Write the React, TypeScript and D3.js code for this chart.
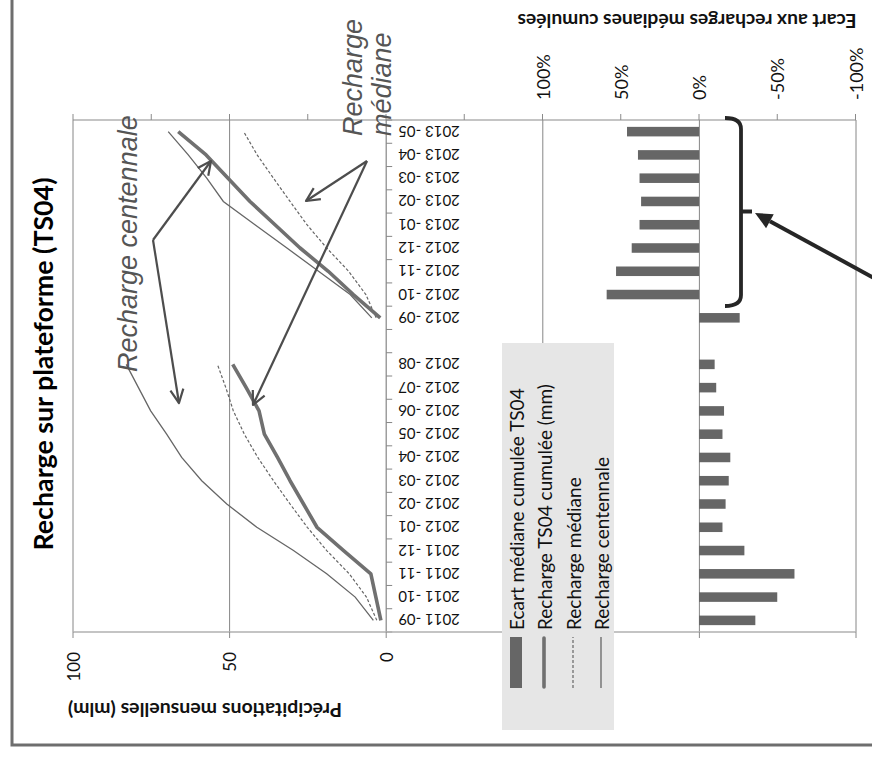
import React from 'react';
import * as d3 from 'd3';

// categories (a blank slot separates the two hydrological years)
const months = [
  '2011 -09', '2011 -10', '2011 -11', '2011 -12', '2012 -01', '2012 -02', '2012 -03', '2012 -04',
  '2012 -05', '2012 -06', '2012 -07', '2012 -08', '', '2012 -09', '2012 -10', '2012 -11',
  '2012 -12', '2013 -01', '2013 -02', '2013 -03', '2013 -04', '2013 -05',
];

// Ecart médiane cumulée TS04 (%)
const ecartMediane = [
  -36, -50, -61, -29, -15, -17, -19, -20, -15, -16, -11, -10, null,
  -26, 59, 53, 43, 38, 37, 38, 39, 46,
];

// cumulated recharges (mm)
const rechargeTS04 = [
  1.7, 3.3, 4.9, 13.6, 22.1, 26.4, 30.7, 34.7, 38.9, 40.6, 44.7, 49.0, null,
  1.9, 10.5, 18.5, 27.5, 35.5, 43.5, 50.5, 57.5, 66.4,
];
const rechargeMediane = [
  3.0, 6.3, 11.8, 19.0, 25.2, 30.7, 36.0, 41.0, 45.3, 48.8, 51.2, 53.9, null,
  3.2, 6.5, 12.0, 19.0, 25.3, 30.7, 36.0, 41.2, 45.5,
];
const rechargeCentennale = [
  4.1, 9.9, 19.0, 29.6, 41.3, 50.9, 58.9, 65.3, 70.1, 75.2, 79.1, 83.0, null,
  4.6, 11.5, 21.6, 31.7, 41.9, 52.0, 57.3, 63.2, 69.6,
];

const primTicks = [-150, -100, -50, 0, 50, 100];
const primLabels = [0, 50, 100];
const secTicks = d3.range(-100, 401, 50);
const secLabels = [-100, -50, 0, 50, 100];
const legendItems = [
  'Ecart médiane cumulée TS04',
  'Recharge TS04 cumulée (mm)',
  'Recharge médiane',
  'Recharge centennale',
];

const W = 757; // width of the chart before it is turned on its side
const SANS = 'Lato, "Open Sans", sans-serif';

// open arrow head at "tip" for a segment coming from "from"
const arrowHead = (from: number[], tip: number[], len = 15, spread = 0.45) => {
  const a = Math.atan2(tip[1] - from[1], tip[0] - from[0]);
  const p1 = [tip[0] - len * Math.cos(a - spread), tip[1] - len * Math.sin(a - spread)];
  const p2 = [tip[0] - len * Math.cos(a + spread), tip[1] - len * Math.sin(a + spread)];
  return `M${p1[0]},${p1[1]}L${tip[0]},${tip[1]}L${p2[0]},${p2[1]}`;
};

const App: React.FC = () => {
  const x = d3.scaleBand<number>().domain(d3.range(months.length)).range([125, 637]).padding(0);
  const yPrim = d3.scaleLinear().domain([-150, 100]).range([856, 73]);
  const ySec = d3.scaleLinear().domain([-100, 400]).range([855.5, 73]);
  const cx = (i: number) => (x(i) as number) + x.bandwidth() / 2;
  const barW = x.bandwidth() * 0.41;

  const line = d3.line<number | null>()
    .defined(d => d !== null)
    .x((_, i) => cx(i))
    .y(d => yPrim(d as number));

  const plotTop = 73;
  const plotBottom = 856;
  const left = 125;
  const right = 637;
  const catAxis = yPrim(0);

  // annotation arrows (drawn on the final, turned picture)
  const centVertex = [153, 240];
  const centTips = [[211, 161], [179, 403]];
  const medVertex = [367, 161];
  const medTips = [[306, 201], [253, 405]];
  const blackFrom = [905, 295];
  const blackTip = [755, 213];
  const ba = Math.atan2(blackTip[1] - blackFrom[1], blackTip[0] - blackFrom[0]);
  const bh = 17;
  const bw = 8;
  const bBase = [blackTip[0] - bh * Math.cos(ba), blackTip[1] - bh * Math.sin(ba)];
  const blackHead = `M${blackTip[0]},${blackTip[1]}L${bBase[0] + bw * Math.sin(ba)},${bBase[1] - bw * Math.cos(ba)}L${bBase[0] - bw * Math.sin(ba)},${bBase[1] + bw * Math.cos(ba)}Z`;

  return (
    <svg width={872} height={757} style={{ position: 'absolute', left: 0, top: 0, background: '#fff' }}>
      <g transform={`translate(0,${W}) rotate(-90)`}>
        {/* frame */}
        <rect x={12} y={12} width={900} height={900} fill="none" stroke="#6e6e6e" strokeWidth={3} />

        {/* title */}
        <text x={393} y={53} textAnchor="middle" fontFamily={SANS} fontWeight="bold" fontSize={27}
          textLength={373} lengthAdjust="spacingAndGlyphs" fill="#000">
          Recharge sur plateforme (TS04)
        </text>

        {/* primary gridlines */}
        {primTicks.filter(t => t !== 0).map(t => (
          <line key={t} x1={left} x2={right} y1={yPrim(t)} y2={yPrim(t)} stroke="#868686" strokeWidth={1} />
        ))}

        {/* secondary axis (right) */}
        <line x1={right} x2={right} y1={plotTop} y2={plotBottom} stroke="#8a8a8a" strokeWidth={1.2} />
        {secTicks.map(t => (
          <line key={t} x1={right} x2={right + 6} y1={ySec(t)} y2={ySec(t)} stroke="#8a8a8a" strokeWidth={1} />
        ))}
        {secLabels.map(t => (
          <text key={t} x={right + 20} y={ySec(t)} textAnchor="start" dominantBaseline="central"
            fontFamily={SANS} fontSize={18} fill="#111">
            {`${t}%`}
          </text>
        ))}
        <text transform={`translate(736,687) rotate(-90)`} textAnchor="middle" dominantBaseline="central"
          fontFamily={SANS} fontWeight="bold" fontSize={19} textLength={339} lengthAdjust="spacingAndGlyphs" fill="#111">
          Ecart aux recharges médianes cumulées
        </text>

        {/* bars */}
        {ecartMediane.map((d, i) => d === null ? null : (
          <rect key={i} x={cx(i) - barW / 2} width={barW}
            y={Math.min(ySec(0), ySec(d))} height={Math.abs(ySec(d) - ySec(0))} fill="#666" />
        ))}

        {/* lines */}
        <path d={line(rechargeCentennale) || ''} fill="none" stroke="#666" strokeWidth={1.3} />
        <path d={line(rechargeMediane) || ''} fill="none" stroke="#666" strokeWidth={1.2} strokeDasharray="3,2" />
        <path d={line(rechargeTS04) || ''} fill="none" stroke="#707070" strokeWidth={3.6} strokeLinejoin="round" />

        {/* category axis at 0 */}
        <line x1={left} x2={right} y1={catAxis} y2={catAxis} stroke="#868686" strokeWidth={1.2} />
        {d3.range(months.length + 1).map(k => {
          const u = left + k * x.step();
          return <line key={k} x1={u} x2={u} y1={catAxis} y2={catAxis + 6} stroke="#868686" strokeWidth={1} />;
        })}
        {months.map((m, i) => (
          <text key={i} transform={`translate(${cx(i)},${catAxis + 12}) rotate(-90)`} textAnchor="end"
            dominantBaseline="central" fontFamily={SANS} fontSize={15} fill="#111">
            {m}
          </text>
        ))}

        {/* legend */}
        <rect x={27} y={502} width={387} height={112} fill="#e6e6e6" />
        {legendItems.map((t, i) => {
          const v = [516, 544, 573, 601][i];
          return (
            <g key={t}>
              {i === 0 && <rect x={69} y={v - 6} width={51} height={12} fill="#666" />}
              {i === 1 && <line x1={70} x2={119} y1={v} y2={v} stroke="#707070" strokeWidth={3.6} strokeLinecap="round" />}
              {i === 2 && <line x1={69} x2={120} y1={v} y2={v} stroke="#666" strokeWidth={1.2} strokeDasharray="3,2" />}
              {i === 3 && <line x1={69} x2={120} y1={v} y2={v} stroke="#666" strokeWidth={1.3} />}
              <text x={127} y={v} dominantBaseline="central" fontFamily={SANS} fontSize={19} fill="#111">{t}</text>
            </g>
          );
        })}

        {/* primary axis (left), hidden behind the legend box like the original */}
        <line x1={left} x2={left} y1={plotTop} y2={502} stroke="#b0b0b0" strokeWidth={1.6} />
        <line x1={left} x2={left} y1={614} y2={plotBottom} stroke="#b0b0b0" strokeWidth={1.6} />
        {primTicks.filter(t => yPrim(t) < 502 || yPrim(t) > 614).map(t => (
          <line key={t} x1={left - 6} x2={left} y1={yPrim(t)} y2={yPrim(t)} stroke="#8a8a8a" strokeWidth={1} />
        ))}
        {primLabels.map(t => (
          <text key={t} x={105} y={yPrim(t)} textAnchor="end" dominantBaseline="central"
            fontFamily={SANS} fontSize={17} fill="#111">
            {t}
          </text>
        ))}
        <text transform={`translate(47,205) rotate(-90)`} textAnchor="middle" dominantBaseline="central"
          fontFamily={SANS} fontWeight="bold" fontSize={18} textLength={274} lengthAdjust="spacingAndGlyphs" fill="#111">
          Précipitations mensuelles (mlm)
        </text>

        {/* annotation labels */}
        <text x={385} y={137} fontFamily='"Liberation Sans", Arial, sans-serif' fontStyle="italic" fontSize={27} fill="#555">
          Recharge centennale
        </text>
        <text x={621} y={362} fontFamily='"Liberation Sans", Arial, sans-serif' fontStyle="italic" fontSize={27} fill="#555">
          Recharge
        </text>
        <text x={621} y={391} fontFamily='"Liberation Sans", Arial, sans-serif' fontStyle="italic" fontSize={27} fill="#555">
          médiane
        </text>
      </g>

      {/* annotation arrows */}
      <g fill="none" stroke="#4d4d4d" strokeWidth={2.2} strokeLinejoin="round">
        {centTips.map((t, i) => (
          <g key={`c${i}`}>
            <path d={`M${centVertex[0]},${centVertex[1]}L${t[0]},${t[1]}`} />
            <path d={arrowHead(centVertex, t)} />
          </g>
        ))}
        {medTips.map((t, i) => (
          <g key={`m${i}`}>
            <path d={`M${medVertex[0]},${medVertex[1]}L${t[0]},${t[1]}`} />
            <path d={arrowHead(medVertex, t)} />
          </g>
        ))}
      </g>

      {/* bracket and black arrow on the bars */}
      <path d="M725,118 Q741,118 741,129 L741,295 Q741,306 725,306 M741,211.5 L752,211.5" fill="none" stroke="#262626" strokeWidth={3.8} />
      <path d={`M${blackFrom[0]},${blackFrom[1]}L${bBase[0]},${bBase[1]}`} stroke="#262626" strokeWidth={4} />
      <path d={blackHead} fill="#262626" />
    </svg>
  );
};

export default App;
